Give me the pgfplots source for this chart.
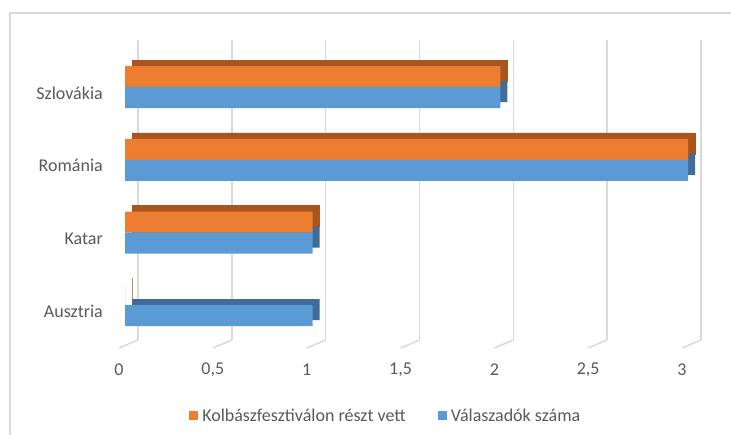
\documentclass[border=0pt]{standalone}
\usepackage{pgfplots}
\pgfplotsset{compat=1.18}
\usepackage{pgfplotstable}
\usepackage{fontspec}
\setmainfont{Carlito}
\definecolor{txt}{HTML}{595959}
\definecolor{grd}{HTML}{D9D9D9}
\definecolor{orng}{HTML}{ED7D31}
\definecolor{blu}{HTML}{5B9BD5}
\definecolor{orngdk}{HTML}{A9551E}
\definecolor{bludk}{HTML}{3F6C98}
\pgfplotstableread{
y val
0 0
1 1
2 3
3 2
}\orangedata
\pgfplotstableread{
y val
0 1
1 1
2 3
3 2
}\bluedata
\newcommand{\cfont}{\fontsize{18bp}{21bp}\selectfont}
\begin{document}
\begin{tikzpicture}
\path[use as bounding box] (0,0) rectangle (731bp,435bp);
\draw[grd, line width=1.5bp] (10bp,0) -- (10bp,422bp) -- (731bp,422bp);
\begin{axis}[
  width=563bp, height=300bp, scale only axis,
  at={(125bp,87bp)}, anchor=south west,
  xmin=0, xmax=3, ymin=-0.59, ymax=3.54,
  xtick={0,0.5,1,1.5,2,2.5,3},
  ytick={0,1,2,3},
  yticklabels={Ausztria,Katar,Románia,Szlovákia},
  axis line style={draw=none},
  major tick length=0pt,
  xmajorgrids,
  major grid style={color=grd, line width=1.5bp, xshift=13bp, yshift=8bp},
  /pgf/number format/use comma,
  /pgf/number format/assume math mode=true,
  tick label style={font=\cfont, text=txt},
  xticklabel style={anchor=center, yshift=-22bp, xshift=-6bp},
  yticklabel style={anchor=east, inner sep=0pt, xshift=-22bp, yshift=-6bp},
  clip=false,
  legend style={at={(0.465,-0.225)}, anchor=center, draw=none, fill=none,
    legend columns=2, font=\cfont, text=txt,
    nodes={inner xsep=4bp},
    /tikz/every even column/.append style={column sep=28bp}},
  legend image code/.code={\fill[#1] (0bp,-4.5bp) rectangle (9bp,4.5bp);},
]
\addplot[xbar, bar width=21bp, bar shift=10.5bp, fill=orngdk, draw=orngdk, line width=0.5bp, xshift=7bp, yshift=6bp, forget plot] table[x=val,y=y]{\orangedata};
\addplot[xbar, bar width=21bp, bar shift=-10.5bp, fill=bludk, draw=none, xshift=7bp, yshift=6bp, forget plot] table[x=val,y=y]{\bluedata};
\addplot[xbar, bar width=21bp, bar shift=10.5bp, fill=orng, draw=none] table[x=val,y=y]{\orangedata};
\addplot[xbar, bar width=21bp, bar shift=-10.5bp, fill=blu, draw=none] table[x=val,y=y]{\bluedata};
\legend{Kolbászfesztiválon részt vett, Válaszadók száma}
\pgfplotsinvokeforeach{0,0.5,1,1.5,2,2.5,3}{
  \draw[grd, line width=1.5bp] ([xshift=-6bp]axis cs:#1,-0.59) -- ([xshift=13bp,yshift=8bp]axis cs:#1,-0.59);
}
\end{axis}
\end{tikzpicture}
\end{document}
